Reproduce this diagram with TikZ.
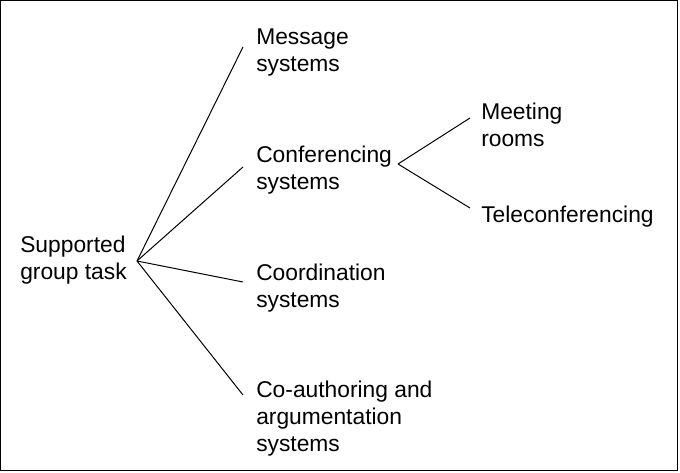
\documentclass[tikz,border=0pt]{standalone}
\usepackage{fontspec}
\setmainfont{Liberation Sans}
\begin{document}
\begin{tikzpicture}[x=0.75pt,y=-0.75pt,
  lbl/.style={anchor=base west,inner sep=0pt,align=left,font=\fontsize{17.1pt}{20.25pt}\selectfont},
  conn/.style={draw=black,line width=0.75pt}]
\useasboundingbox (0,0) rectangle (680,473);
\draw[line width=0.75pt] (0.5,0.5) rectangle (677.5,470.5);
\node[lbl] (sgt) at (20,280) {Supported\\group task};
\node[lbl] (msg) at (256,72) {Message\\systems};
\node[lbl] (conf) at (256,190) {Conferencing\\systems};
\node[lbl] (coord) at (256,307) {Coordination\\systems};
\node[lbl] (coauth) at (256,451) {Co-authoring and\\argumentation\\systems};
\node[lbl] (meet) at (481,147) {Meeting\\rooms};
\node[lbl] (tele) at (481,223) {Teleconferencing};
\coordinate (a) at (137,261);
\coordinate (amsg) at (243,47);
\coordinate (aconf) at (243,167);
\coordinate (acoord) at (243,282);
\coordinate (acoauth) at (243,395);
\coordinate (b) at (398,164);
\coordinate (bmeet) at (470,118);
\coordinate (btele) at (470,208);
\draw[conn] (a) -- (amsg);
\draw[conn] (a) -- (aconf);
\draw[conn] (a) -- (acoord);
\draw[conn] (a) -- (acoauth);
\draw[conn] (b) -- (bmeet);
\draw[conn] (b) -- (btele);
\end{tikzpicture}
\end{document}
